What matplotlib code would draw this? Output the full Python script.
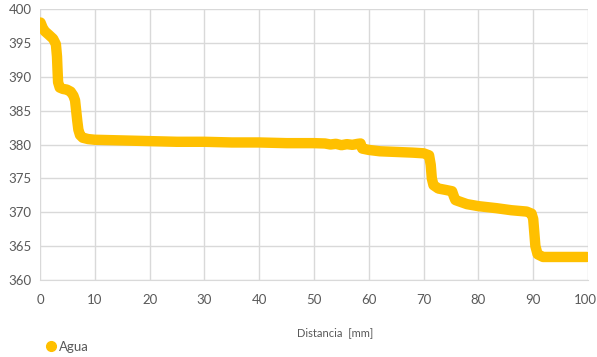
import matplotlib
matplotlib.use("Agg")
import matplotlib.pyplot as plt
import matplotlib.transforms as mtrans
from matplotlib.lines import Line2D

series_name = "Agua"
x_label = "Distancia  [mm]"
distancia = [0.1, 0.5, 0.9, 1.6, 2.4, 2.9, 3.1, 3.2, 3.3, 3.6, 4.2, 4.9, 5.6, 6.1, 6.4, 6.6,
             6.8, 7.0, 7.3, 7.8, 8.8, 10, 15, 20, 25, 30, 35, 40, 45, 50, 52, 53, 54, 55,
             56, 57, 58, 58.5, 58.8, 60, 62, 65, 68, 70, 71.0, 71.3, 71.5, 71.8, 72.7, 74,
             75.2, 75.5, 75.8, 76.5, 77.9, 80, 83.3, 86, 88.8, 89.7, 90.0, 90.2, 90.4, 90.8,
             91.8, 95, 99.8]
valores = [398.0, 397.2, 396.7, 396.2, 395.6, 394.8, 393.0, 391.0, 389.2, 388.4, 388.2,
           388.1, 387.8, 387.2, 386.5, 385.0, 383.5, 382.2, 381.4, 381.0, 380.8, 380.7,
           380.6, 380.5, 380.4, 380.4, 380.3, 380.3, 380.2, 380.2, 380.15, 380.0, 380.1,
           379.9, 380.05, 379.95, 380.1, 380.15, 379.4, 379.2, 379.0, 378.9, 378.8, 378.7,
           378.4, 377.0, 375.0, 374.0, 373.5, 373.3, 373.1, 372.4, 371.8, 371.6, 371.2,
           370.9, 370.6, 370.3, 370.1, 369.8, 369.0, 367.0, 365.0, 363.8, 363.4, 363.4,
           363.4]
x_ticks = [0, 10, 20, 30, 40, 50, 60, 70, 80, 90, 100]
y_ticks = [360, 365, 370, 375, 380, 385, 390, 395, 400]

color = "#FFC000"
grid_c = "#D9D9D9"
text_c = "#595959"
plt.rcParams["font.family"] = ["Lato", "DejaVu Sans"]

fig = plt.figure(figsize=(5.97, 3.57), dpi=100)
ax = fig.add_axes([40/597, 1-280/357, 548/597, 271/357])
ax.plot(distancia, valores, color=color, linewidth=7.5,
        solid_capstyle="round", solid_joinstyle="round", zorder=3)
ax.set_xlim(0, 100)
ax.set_ylim(360, 400)
ax.set_xticks(x_ticks)
ax.set_yticks(y_ticks)
ax.grid(True, color=grid_c, linewidth=1)
ax.set_axisbelow(True)
for s in ["top", "right", "left"]:
    ax.spines[s].set_visible(False)
ax.spines["bottom"].set_color(grid_c)
ax.tick_params(length=0, labelsize=9.5, colors=text_c)
ax.tick_params(axis="x", pad=10)
ax.tick_params(axis="y", pad=6)

last = ax.get_xticklabels()[-1]
last.set_transform(last.get_transform() + mtrans.ScaledTranslation(-3/100, 0, fig.dpi_scale_trans))

fig.text(335/597, 1-333/357, x_label, ha="center", va="center", fontsize=8, color=text_c)
handle = Line2D([], [], linestyle="none", marker="o", markersize=7, color=color)
fig.legend([handle], [series_name], loc="center left", bbox_to_anchor=(38/597, 1-347/357),
           frameon=False, fontsize=9.5, labelcolor=text_c, handletextpad=0.1,
           borderpad=0, handlelength=1)
fig.savefig("out.png", dpi=100)
